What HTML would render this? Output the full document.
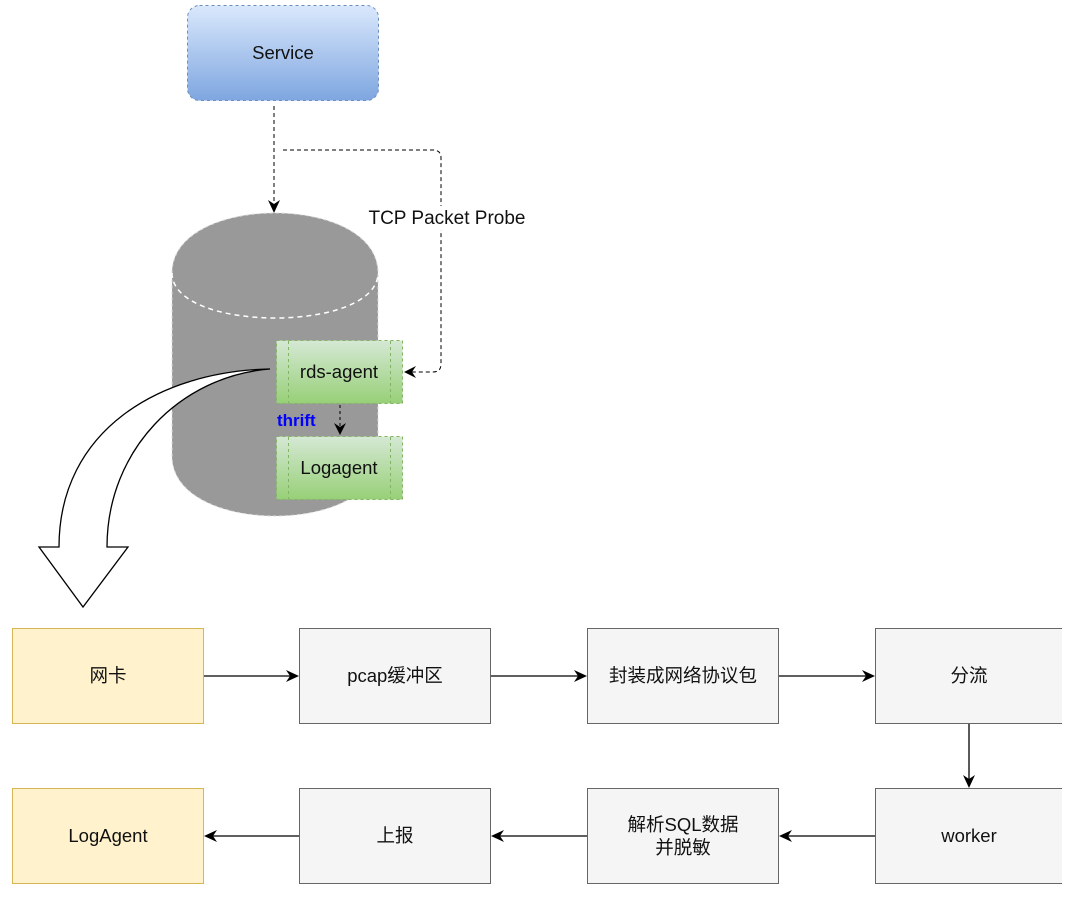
<!DOCTYPE html>
<html><head><meta charset="utf-8"><style>
html,body{margin:0;padding:0;background:#fff;}
svg{display:block;}
text{font-family:"Liberation Sans","Noto Sans CJK SC",sans-serif;}
</style></head><body>
<svg width="1080" height="902" viewBox="0 0 1080 902" xmlns="http://www.w3.org/2000/svg">
<defs>
<linearGradient id="gb" x1="0" y1="0" x2="0" y2="1"><stop offset="0" stop-color="#dae8fc"/><stop offset="1" stop-color="#7ea6e0"/></linearGradient>
<linearGradient id="gg" x1="0" y1="0" x2="0" y2="1"><stop offset="0" stop-color="#d5e8d4"/><stop offset="1" stop-color="#97d077"/></linearGradient>
</defs>
<rect x="187.5" y="5.5" width="191" height="95" rx="12" fill="url(#gb)" stroke="#6c8ebf" stroke-dasharray="3,3"/>
<text x="283" y="59" font-size="18.5" text-anchor="middle" fill="#111">Service</text>
<path d="M172,273 C172,193 378,193 378,273 L378,456 C378,536 172,536 172,456 Z" fill="#999" stroke="#ddd" stroke-dasharray="3,3"/>
<path d="M172,273 C172,333 378,333 378,273" fill="none" stroke="#fff" stroke-width="1.5" stroke-dasharray="5,4"/>
<path d="M274,106 L274,205" fill="none" stroke="#000" stroke-dasharray="4,3"/>
<path d="M268,200 L274,213 L280,200 L274,204 Z" fill="#000"/>
<path d="M283,150 L433,150 Q441,150 441,158 L441,364 Q441,372 433,372 L412,372" fill="none" stroke="#000" stroke-dasharray="4,3"/>
<path d="M416,366 L404,372 L416,378 L412,372 Z" fill="#000"/>
<rect x="364" y="206" width="168" height="24" fill="#fff"/>
<text x="447" y="224" font-size="19" text-anchor="middle" fill="#111">TCP Packet Probe</text>
<rect x="276.5" y="340.5" width="126" height="63" fill="url(#gg)" stroke="#82b366" stroke-dasharray="3,3"/>
<line x1="288.5" y1="341" x2="288.5" y2="403" stroke="#82b366" stroke-dasharray="3,3"/>
<line x1="390.5" y1="341" x2="390.5" y2="403" stroke="#82b366" stroke-dasharray="3,3"/>
<text x="339" y="378" font-size="18.5" text-anchor="middle" fill="#111">rds-agent</text>
<rect x="276.5" y="436.5" width="126" height="63" fill="url(#gg)" stroke="#82b366" stroke-dasharray="3,3"/>
<line x1="288.5" y1="437" x2="288.5" y2="499" stroke="#82b366" stroke-dasharray="3,3"/>
<line x1="390.5" y1="437" x2="390.5" y2="499" stroke="#82b366" stroke-dasharray="3,3"/>
<text x="339" y="474" font-size="18.5" text-anchor="middle" fill="#111">Logagent</text>
<path d="M340,405 L340,428" stroke="#000" stroke-dasharray="3,3"/>
<path d="M334,423 L340,435 L346,423 L340,427 Z" fill="#000"/>
<text x="277" y="426" font-size="17" font-weight="bold" fill="#0000ff">thrift</text>
<path d="M270,369 C160,371 59,430 59,547 L39,547 L83,607 L128,547 L107,547 C107,450 180,376 270,369 Z" fill="#fff" stroke="#000" stroke-width="1.3"/>
<g stroke-width="1">
<rect x="12.5" y="628.5" width="191" height="95" fill="#fff2cc" stroke="#d6b656"/>
<rect x="299.5" y="628.5" width="191" height="95" fill="#f5f5f5" stroke="#666"/>
<rect x="587.5" y="628.5" width="191" height="95" fill="#f5f5f5" stroke="#666"/>
<path d="M1062,628.5 L875.5,628.5 L875.5,723.5 L1062,723.5" fill="#f5f5f5" stroke="#666"/>
<rect x="12.5" y="788.5" width="191" height="95" fill="#fff2cc" stroke="#d6b656"/>
<rect x="299.5" y="788.5" width="191" height="95" fill="#f5f5f5" stroke="#666"/>
<rect x="587.5" y="788.5" width="191" height="95" fill="#f5f5f5" stroke="#666"/>
<path d="M1062,788.5 L875.5,788.5 L875.5,883.5 L1062,883.5" fill="#f5f5f5" stroke="#666"/>
</g>
<g font-size="18.5" text-anchor="middle" fill="#111">
<text x="108" y="682">网卡</text>
<text x="395" y="682">pcap缓冲区</text>
<text x="683" y="682">封装成网络协议包</text>
<text x="969" y="682">分流</text>
<text x="108" y="842">LogAgent</text>
<text x="395" y="842">上报</text>
<text x="683" y="831">解析SQL数据</text>
<text x="683" y="854">并脱敏</text>
<text x="969" y="842">worker</text>
</g>
<g stroke="#000" stroke-width="1.3" fill="none">
<line x1="204" y1="676" x2="292" y2="676"/>
<line x1="491" y1="676" x2="580" y2="676"/>
<line x1="779" y1="676" x2="868" y2="676"/>
<line x1="969" y1="724" x2="969" y2="781"/>
<line x1="875" y1="836" x2="786" y2="836"/>
<line x1="587" y1="836" x2="498" y2="836"/>
<line x1="299" y1="836" x2="211" y2="836"/>
</g>
<g fill="#000">
<path d="M286,670 L299,676 L286,682 L290,676 Z"/>
<path d="M574,670 L587,676 L574,682 L578,676 Z"/>
<path d="M862,670 L875,676 L862,682 L866,676 Z"/>
<path d="M963,775 L969,788 L975,775 L969,779 Z"/>
<path d="M792,830 L779,836 L792,842 L788,836 Z"/>
<path d="M504,830 L491,836 L504,842 L500,836 Z"/>
<path d="M217,830 L204,836 L217,842 L213,836 Z"/>
</g>
</svg>
</body></html>
